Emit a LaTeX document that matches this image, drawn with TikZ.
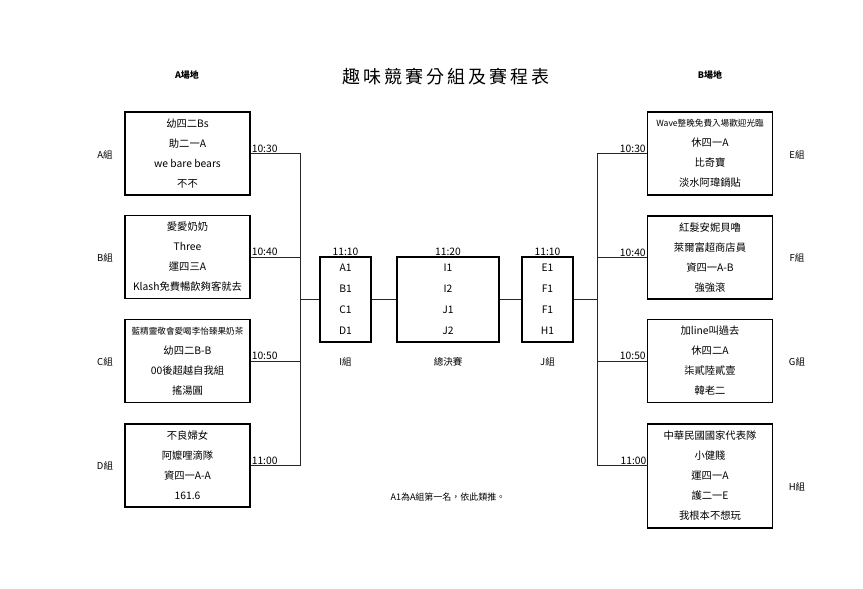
\documentclass[tikz,border=0pt]{standalone}
\usepackage{fontspec}
\setmainfont{Noto Sans CJK TC}
\begin{document}
\begin{tikzpicture}[x=1pt,y=-1pt,
  team/.style={draw,line width=1.2pt,minimum width=125pt,minimum height=83pt,align=center,inner sep=0pt,
     font=\fontsize{10.3pt}{20pt}\selectfont},
  mid/.style={draw,line width=1.2pt,minimum height=85pt,align=center,inner sep=0pt,
     font=\fontsize{10.3pt}{21pt}\selectfont},
  conn/.style={line width=0.7pt,draw=black!85},
  tm/.style={font=\fontsize{10.3pt}{12pt}\selectfont,inner sep=1pt},
  grp/.style={font=\fontsize{9.5pt}{11pt}\selectfont,inner sep=0pt}]
\useasboundingbox (0,0) rectangle (863,589);
% headers
\node[font=\bfseries\fontsize{9pt}{11pt}\selectfont] (hA) at (187,75) {A場地};
\node[font=\bfseries\fontsize{9pt}{11pt}\selectfont] (hB) at (710,75) {B場地};
\node[font=\fontsize{18pt}{20pt}\selectfont] (title) at (446,77) {趣\,味\,競\,賽\,分\,組\,及\,賽\,程\,表};
% left boxes
\node[team] (bA) at (187.5,153.5) {幼四二Bs\\助二一A\\we bare bears\\不不};
\node[team] (bB) at (187.5,257) {愛愛奶奶\\Three\\運四三A\\Klash免費暢飲夠客就去};
\node[team] (bC) at (187.5,361) {{\fontsize{8.6pt}{20pt}\selectfont 藍精靈敬會愛喝李怡臻果奶茶}\\幼四二B-B\\00後超越自我組\\搖湯圓};
\node[team] (bD) at (187.5,465.5) {不良婦女\\阿嬤哩滴隊\\資四一A-A\\161.6};
% right boxes
\node[team] (bE) at (710,153.5) {{\fontsize{8.6pt}{20pt}\selectfont Wave整晚免費入場歡迎光臨}\\休四一A\\比奇寶\\淡水阿瑋鍋貼};
\node[team] (bF) at (710,257.5) {紅髮安妮貝嚕\\萊爾富超商店員\\資四一A-B\\強強滾};
\node[team] (bG) at (710,361) {加line叫過去\\休四二A\\柒貳陸貳壹\\韓老二};
\node[team,minimum height=104pt] (bH) at (710,476) {中華民國國家代表隊\\小健賤\\運四一A\\護二一E\\我根本不想玩};
\coordinate (hIn) at (647.6,465.5);
% group labels
\node[grp] (gA) at (105,155) {A組};
\node[grp] (gB) at (105,258) {B組};
\node[grp] (gC) at (105,362) {C組};
\node[grp] (gD) at (105,466) {D組};
\node[grp] (gE) at (797,155) {E組};
\node[grp] (gF) at (797,258) {F組};
\node[grp] (gG) at (797,362) {G組};
\node[grp] (gH) at (797,487) {H組};
% middle boxes
\node[mid,minimum width=51pt] (bI) at (345.5,299.5) {A1\\B1\\C1\\D1};
\node[mid,minimum width=102pt] (bFin) at (448,299.5) {I1\\I2\\J1\\J2};
\node[mid,minimum width=51pt] (bJ) at (547.5,299.5) {E1\\F1\\F1\\H1};
\node[tm,anchor=south] (tI) at (bI.north) {11:10};
\node[tm,anchor=south] (tFin) at (bFin.north) {11:20};
\node[tm,anchor=south] (tJ) at (bJ.north) {11:10};
\node[grp] (lI) at (345.5,362) {I組};
\node[grp] (lFin) at (448,362) {總決賽};
\node[grp] (lJ) at (547.5,362) {J組};
% note
\node[font=\fontsize{9pt}{11pt}\selectfont] (note) at (448,497) {A1為A組第一名，依此類推。};
% times
\node[tm,anchor=south west] (t1) at (bA.east) {10:30};
\node[tm,anchor=south west] (t2) at (bB.east) {10:40};
\node[tm,anchor=south west] (t3) at (bC.east) {10:50};
\node[tm,anchor=south west] (t4) at (bD.east) {11:00};
\node[tm,anchor=south east] (t5) at (bE.west) {10:30};
\node[tm,anchor=south east] (t6) at (bF.west) {10:40};
\node[tm,anchor=south east] (t7) at (bG.west) {10:50};
\node[tm,anchor=south east] (t8) at (hIn) {11:00};
% connectors
\coordinate (vL) at (300,0);
\coordinate (vR) at (597,0);
\draw[conn] (bA.east) -- (bA.east -| vL) -- (bD.east -| vL) -- (bD.east);
\draw[conn] (bB.east) -- (bB.east -| vL);
\draw[conn] (bC.east) -- (bC.east -| vL);
\draw[conn] (bI.west -| vL) -- (bI.west);
\draw[conn] (bI.east) -- (bFin.west);
\draw[conn] (bFin.east) -- (bJ.west);
\draw[conn] (bJ.east) -- (bJ.east -| vR);
\draw[conn] (bE.west) -- (bE.west -| vR) -- (hIn -| vR) -- (hIn);
\draw[conn] (bF.west) -- (bF.west -| vR);
\draw[conn] (bG.west) -- (bG.west -| vR);
\end{tikzpicture}
\end{document}
